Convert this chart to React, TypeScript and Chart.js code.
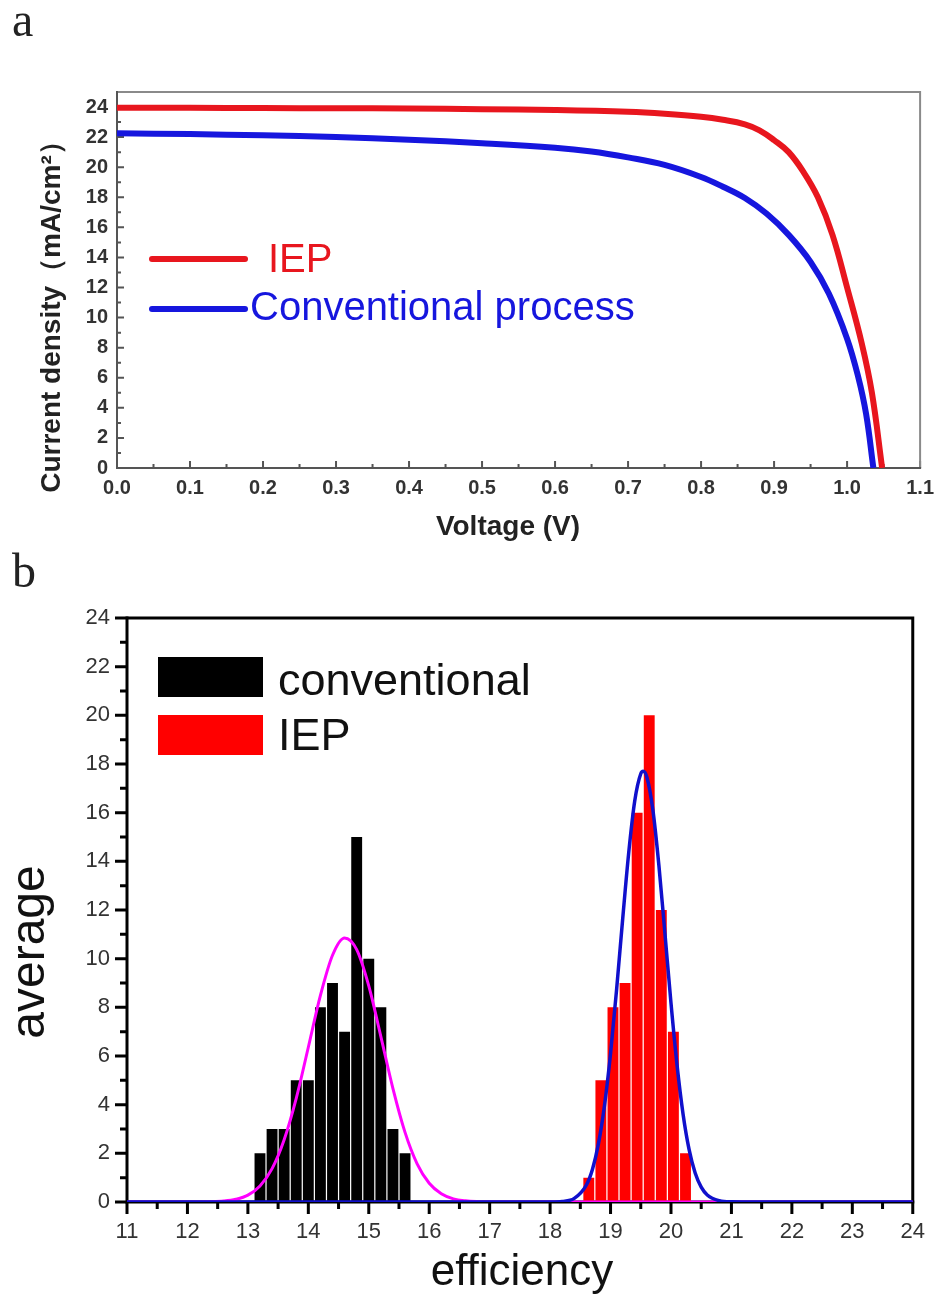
import React, { useEffect, useRef } from 'react';
import { Chart, registerables } from 'chart.js';

Chart.register(...registerables);

// ---------------- Panel a : J-V curves ----------------
const iepVoltage = [0, 0.1, 0.2, 0.3, 0.4, 0.5, 0.6, 0.7, 0.75, 0.8, 0.83, 0.86, 0.88, 0.9, 0.92, 0.94, 0.96, 0.98, 1.0, 1.02, 1.034, 1.048];
const iepCurrent = [23.95, 23.95, 23.93, 23.92, 23.9, 23.86, 23.8, 23.68, 23.55, 23.35, 23.15, 22.85, 22.45, 21.8, 21.0, 19.7, 18.0, 15.5, 12.0, 8.3, 5.0, 0];
const convVoltage = [0, 0.1, 0.2, 0.3, 0.4, 0.5, 0.6, 0.65, 0.7, 0.75, 0.8, 0.83, 0.86, 0.89, 0.92, 0.95, 0.975, 1.0, 1.015, 1.026, 1.036];
const convCurrent = [22.25, 22.2, 22.12, 22.0, 21.83, 21.6, 21.3, 21.05, 20.65, 20.15, 19.35, 18.7, 17.95, 16.9, 15.5, 13.7, 11.6, 8.6, 6.1, 3.6, 0];
const jvSeriesNames = ['IEP', 'Conventional process'];
const jvXTitle = 'Voltage (V)';
const jvYTitle = 'Current density（mA/cm²）';
const jvYTicks = [0, 2, 4, 6, 8, 10, 12, 14, 16, 18, 20, 22, 24];

// ---------------- Panel b : efficiency histogram ----------------
const convBinCenters = [13.2, 13.4, 13.6, 13.8, 14.0, 14.2, 14.4, 14.6, 14.8, 15.0, 15.2, 15.4, 15.6];
const convCounts = [2, 3, 3, 5, 5, 8, 9, 7, 15, 10, 8, 3, 2];
const iepBinCenters = [18.64, 18.84, 19.04, 19.24, 19.44, 19.64, 19.84, 20.04, 20.24];
const iepCounts = [1, 5, 8, 9, 16, 20, 12, 7, 2];
const convFitX = [11, 12.0, 12.4, 12.6, 12.8, 13.0, 13.2, 13.4, 13.6, 13.8, 14.0, 14.2, 14.4, 14.6, 14.8, 15.0, 15.2, 15.4, 15.6, 15.8, 16.0, 16.2, 16.4, 16.6, 16.8, 17.0, 17.4, 24];
const convFitY = [0, 0.001, 0.012, 0.038, 0.11, 0.28, 0.66, 1.37, 2.56, 4.26, 6.36, 8.49, 10.14, 10.85, 10.37, 8.88, 6.8, 4.66, 2.86, 1.57, 0.77, 0.34, 0.13, 0.047, 0.015, 0.004, 0, 0];
const iepFitX = [11, 17.6, 18.0, 18.2, 18.4, 18.6, 18.7, 18.8, 18.9, 19.0, 19.1, 19.2, 19.3, 19.4, 19.5, 19.54, 19.6, 19.7, 19.8, 19.9, 20.0, 20.1, 20.2, 20.3, 20.4, 20.5, 20.6, 20.8, 21.0, 21.4, 24];
const iepFitY = [0, 0, 0.003, 0.025, 0.15, 0.7, 1.34, 2.4, 3.97, 6.1, 8.73, 11.61, 14.34, 16.48, 17.6, 17.7, 17.47, 16.12, 13.83, 11.03, 8.17, 5.63, 3.61, 2.15, 1.19, 0.61, 0.29, 0.054, 0.007, 0, 0];
const histSeriesNames = ['conventional', 'IEP'];
const histXTitle = 'efficiency';
const histYTitle = 'average';

const SANS = '"Liberation Sans", Arial, sans-serif';

type FrameSpec = {
  inward: boolean;
  major: number;
  minor: number;
  tickWidth: number;
  tickColor: string;
  axisColor: string;
  axisWidth: number;
  farColor: string;
  farWidth: number;
};

function makeFramePlugin(spec: FrameSpec) {
  return {
    id: 'frameTicks',
    beforeDatasetsDraw(chart: any) {
      const { ctx, chartArea: a } = chart;
      const xs = chart.scales.x;
      const ys = chart.scales.y;
      const dir = spec.inward ? -1 : 1;
      const mids = (v: number[]) => v.slice(0, -1).map((x, i) => (x + v[i + 1]) / 2);
      const mx = xs.ticks.map((t: any) => t.value);
      const my = ys.ticks.map((t: any) => t.value);
      ctx.save();
      ctx.strokeStyle = spec.tickColor;
      ctx.lineWidth = spec.tickWidth;
      ctx.beginPath();
      mx.forEach((v: number) => {
        const p = xs.getPixelForValue(v);
        ctx.moveTo(p, a.bottom);
        ctx.lineTo(p, a.bottom + dir * spec.major);
      });
      mids(mx).forEach((v: number) => {
        const p = xs.getPixelForValue(v);
        ctx.moveTo(p, a.bottom);
        ctx.lineTo(p, a.bottom + dir * spec.minor);
      });
      my.forEach((v: number) => {
        const p = ys.getPixelForValue(v);
        ctx.moveTo(a.left, p);
        ctx.lineTo(a.left - dir * spec.major, p);
      });
      mids(my).forEach((v: number) => {
        const p = ys.getPixelForValue(v);
        ctx.moveTo(a.left, p);
        ctx.lineTo(a.left - dir * spec.minor, p);
      });
      ctx.stroke();
      ctx.strokeStyle = spec.farColor;
      ctx.lineWidth = spec.farWidth;
      ctx.beginPath();
      ctx.moveTo(a.left, a.top);
      ctx.lineTo(a.right, a.top);
      ctx.lineTo(a.right, a.bottom);
      ctx.stroke();
      ctx.strokeStyle = spec.axisColor;
      ctx.lineWidth = spec.axisWidth;
      ctx.beginPath();
      ctx.moveTo(a.left, a.top - spec.farWidth / 2);
      ctx.lineTo(a.left, a.bottom);
      ctx.lineTo(a.right + spec.farWidth / 2, a.bottom);
      ctx.stroke();
      ctx.restore();
    },
  };
}

type TitleSpec = { text: string; x: number; y: number; rotate: boolean; font: string; color: string };

function makeTitlePlugin(titles: TitleSpec[]) {
  return {
    id: 'axisTitles',
    afterDraw(chart: any) {
      const { ctx } = chart;
      titles.forEach((t) => {
        ctx.save();
        ctx.font = t.font;
        ctx.fillStyle = t.color;
        ctx.textAlign = 'center';
        ctx.textBaseline = 'alphabetic';
        ctx.translate(t.x, t.y);
        if (t.rotate) ctx.rotate(-Math.PI / 2);
        ctx.fillText(t.text, 0, 0);
        ctx.restore();
      });
    },
  };
}

type LegendItem = { sampleY: number; textX: number; textY: number };
type LegendSpec = {
  kind: 'line' | 'box';
  sampleX0: number;
  sampleX1: number;
  sampleH: number;
  font: string;
  textColor?: string;
  items: LegendItem[];
};

function makeLegendPlugin(spec: LegendSpec) {
  return {
    id: 'insideLegend',
    afterDraw(chart: any) {
      const { ctx, chartArea: a } = chart;
      ctx.save();
      spec.items.forEach((it, i) => {
        const ds = chart.data.datasets[i];
        const color = spec.kind === 'line' ? ds.borderColor : ds.backgroundColor;
        if (spec.kind === 'line') {
          ctx.strokeStyle = color;
          ctx.lineWidth = spec.sampleH;
          ctx.lineCap = 'round';
          ctx.beginPath();
          ctx.moveTo(a.left + spec.sampleX0, a.top + it.sampleY);
          ctx.lineTo(a.left + spec.sampleX1, a.top + it.sampleY);
          ctx.stroke();
        } else {
          ctx.fillStyle = color;
          ctx.fillRect(a.left + spec.sampleX0, a.top + it.sampleY, spec.sampleX1 - spec.sampleX0, spec.sampleH);
        }
        ctx.font = spec.font;
        ctx.fillStyle = spec.textColor || color;
        ctx.textAlign = 'left';
        ctx.textBaseline = 'alphabetic';
        ctx.fillText(ds.label, a.left + it.textX, a.top + it.textY);
      });
      ctx.restore();
    },
  };
}

function jvConfig(): any {
  return {
    type: 'line',
    data: {
      datasets: [
        {
          label: jvSeriesNames[0],
          data: iepVoltage.map((v, i) => ({ x: v, y: iepCurrent[i] })),
          borderColor: 'rgb(232,22,30)',
          borderWidth: 6,
          pointRadius: 0,
          tension: 0.4,
          fill: false,
        },
        {
          label: jvSeriesNames[1],
          data: convVoltage.map((v, i) => ({ x: v, y: convCurrent[i] })),
          borderColor: 'rgb(22,22,222)',
          borderWidth: 6,
          pointRadius: 0,
          tension: 0.4,
          fill: false,
        },
      ],
    },
    options: {
      responsive: false,
      animation: false,
      devicePixelRatio: 1,
      layout: { padding: { left: 0, right: 16, top: 92, bottom: 0 } },
      plugins: { legend: { display: false }, tooltip: { enabled: false } },
      scales: {
        x: {
          type: 'linear',
          min: 0,
          max: 1.1,
          grid: { display: false, drawTicks: false },
          border: { display: false },
          ticks: {
            stepSize: 0.1,
            padding: 8,
            color: '#333',
            font: { family: SANS, size: 20, weight: 'bold' },
            maxRotation: 0,
            autoSkip: false,
            callback: (v: any) => Number(v).toFixed(1),
          },
          afterFit: (s: any) => { s.height = 92; },
        },
        y: {
          type: 'linear',
          min: 0,
          max: 25,
          grid: { display: false, drawTicks: false },
          border: { display: false },
          ticks: {
            padding: 9,
            color: '#333',
            font: { family: SANS, size: 20, weight: 'bold' },
            autoSkip: false,
          },
          afterBuildTicks: (s: any) => { s.ticks = jvYTicks.map((v) => ({ value: v })); },
          afterFit: (s: any) => { s.width = 117; },
        },
      },
    },
    plugins: [
      makeFramePlugin({ inward: true, major: 7, minor: 4, tickWidth: 2, tickColor: '#555', axisColor: '#555', axisWidth: 2, farColor: '#8a8a8a', farWidth: 2 }),
      makeTitlePlugin([
        { text: jvXTitle, x: 508, y: 535, rotate: false, font: `bold 28px ${SANS}`, color: '#222' },
        { text: jvYTitle, x: 60, y: 310, rotate: true, font: `bold 28px ${SANS}`, color: '#222' },
      ]),
      makeLegendPlugin({
        kind: 'line',
        sampleX0: 35,
        sampleX1: 128,
        sampleH: 6,
        font: `40px ${SANS}`,
        items: [
          { sampleY: 167, textX: 151, textY: 180 },
          { sampleY: 217, textX: 133, textY: 228 },
        ],
      }),
    ],
  };
}

function histConfig(): any {
  return {
    type: 'bar',
    data: {
      datasets: [
        {
          type: 'bar',
          label: histSeriesNames[0],
          data: convBinCenters.map((c, i) => ({ x: c, y: convCounts[i] })),
          backgroundColor: '#000000',
          borderWidth: 0,
          grouped: false,
          barPercentage: 0.9,
          categoryPercentage: 1,
          order: 2,
        },
        {
          type: 'bar',
          label: histSeriesNames[1],
          data: iepBinCenters.map((c, i) => ({ x: c, y: iepCounts[i] })),
          backgroundColor: '#ff0000',
          borderWidth: 0,
          grouped: false,
          barPercentage: 0.9,
          categoryPercentage: 1,
          order: 2,
        },
        {
          type: 'line',
          label: 'conventional fit',
          data: convFitX.map((x, i) => ({ x, y: convFitY[i] })),
          borderColor: '#ff00ff',
          borderWidth: 3,
          pointRadius: 0,
          cubicInterpolationMode: 'monotone',
          fill: false,
          order: 1,
        },
        {
          type: 'line',
          label: 'IEP fit',
          data: iepFitX.map((x, i) => ({ x, y: iepFitY[i] })),
          borderColor: '#1010cc',
          borderWidth: 3.5,
          pointRadius: 0,
          cubicInterpolationMode: 'monotone',
          fill: false,
          order: 0,
        },
      ],
    },
    options: {
      responsive: false,
      animation: false,
      devicePixelRatio: 1,
      layout: { padding: { left: 0, right: 24, top: 58, bottom: 0 } },
      plugins: { legend: { display: false }, tooltip: { enabled: false } },
      scales: {
        x: {
          type: 'linear',
          min: 11,
          max: 24,
          offset: false,
          grid: { display: false, drawTicks: false, offset: false },
          border: { display: false },
          ticks: {
            stepSize: 1,
            padding: 17,
            color: '#333',
            font: { family: SANS, size: 22 },
            maxRotation: 0,
            autoSkip: false,
          },
          afterFit: (s: any) => { s.height = 105; },
        },
        y: {
          type: 'linear',
          min: 0,
          max: 24,
          grid: { display: false, drawTicks: false },
          border: { display: false },
          ticks: {
            stepSize: 2,
            padding: 17,
            color: '#333',
            font: { family: SANS, size: 22 },
            autoSkip: false,
          },
          afterFit: (s: any) => { s.width = 127; },
        },
      },
    },
    plugins: [
      makeFramePlugin({ inward: false, major: 12, minor: 7, tickWidth: 3, tickColor: '#000', axisColor: '#000', axisWidth: 3, farColor: '#000', farWidth: 3 }),
      makeTitlePlugin([
        { text: histXTitle, x: 522, y: 725, rotate: false, font: `44px ${SANS}`, color: '#111' },
        { text: histYTitle, x: 44, y: 392, rotate: true, font: `48px ${SANS}`, color: '#111' },
      ]),
      makeLegendPlugin({
        kind: 'box',
        sampleX0: 31,
        sampleX1: 136,
        sampleH: 40,
        font: `45px ${SANS}`,
        textColor: '#111',
        items: [
          { sampleY: 39, textX: 151, textY: 77 },
          { sampleY: 97, textX: 151, textY: 132 },
        ],
      }),
    ],
  };
}

export default function App() {
  const topRef = useRef<HTMLCanvasElement | null>(null);
  const bottomRef = useRef<HTMLCanvasElement | null>(null);

  useEffect(() => {
    const c1 = new Chart(topRef.current as HTMLCanvasElement, jvConfig());
    const c2 = new Chart(bottomRef.current as HTMLCanvasElement, histConfig());
    return () => {
      c1.destroy();
      c2.destroy();
    };
  }, []);

  const letter: React.CSSProperties = {
    position: 'absolute',
    left: 12,
    fontFamily: '"Liberation Serif", "Times New Roman", serif',
    fontSize: 48,
    lineHeight: 1,
    color: '#222',
  };

  return (
    <div style={{ position: 'absolute', left: 0, top: 0, width: 942, height: 1307, background: '#fff', overflow: 'hidden' }}>
      <canvas ref={topRef} width={942} height={560} style={{ position: 'absolute', left: 0, top: 0, width: 942, height: 560 }} />
      <canvas ref={bottomRef} width={942} height={747} style={{ position: 'absolute', left: 0, top: 560, width: 942, height: 747 }} />
      <div style={{ ...letter, top: -4 }}>a</div>
      <div style={{ ...letter, top: 547 }}>b</div>
    </div>
  );
}
